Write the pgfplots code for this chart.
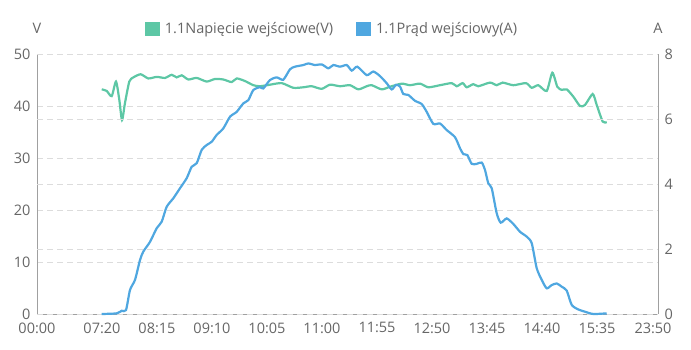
\documentclass[border=0pt]{standalone}
\usepackage{pgfplots}
\pgfplotsset{compat=1.18}
\usepackage{fontspec}
\setmainfont{Open Sans}
\definecolor{vgreen}{HTML}{5DC7A5}
\definecolor{ablue}{HTML}{4FA7E0}
\definecolor{txt}{HTML}{666666}
\definecolor{axl}{HTML}{A0A0A0}
\definecolor{grd}{HTML}{DCDCDC}
\begin{document}
\begin{tikzpicture}[x=1bp,y=1bp]
\path[use as bounding box] (0,0) rectangle (691,349);
\pgfplotsset{
  common/.style={
    at={(37bp,35bp)}, anchor=south west,
    scale only axis, width=621bp, height=260bp,
    xmin=0, xmax=621, clip=false,
    major tick length=0pt,
    tick label style={font=\fontsize{14.5bp}{16bp}\selectfont, text=txt},
    /pgf/number format/assume math mode=true,
    axis line style={axl, line width=1bp},
    ymajorgrids,
    grid style={grd, dash pattern=on 6bp off 4bp, line width=0.9bp},
  }
}
\begin{axis}[common,
  ymin=0, ymax=50, ytick={0,10,20,30,40,50},
  axis y line*=left, axis x line*=bottom,
  xtick={0,65,120,175,230,285,340,395,450,505,560,616},
  xticklabels={00:00,07:20,08:15,09:10,10:05,11:00,11:55,12:50,13:45,14:40,15:35,23:50},
  xticklabel style={yshift=-5bp},
  yticklabel style={xshift=-3bp},
  legend style={at={(0.475,1.096)}, anchor=center, draw=none, fill=none,
    font=\fontsize{14.5bp}{16bp}\selectfont, text=txt,
    legend columns=2, /tikz/every even column/.append style={column sep=21bp}},
  legend image code/.code={\fill[#1,draw=none] (0bp,-7bp) rectangle (15bp,7.5bp);
    \path[draw=none] (15bp,0bp) -- (18bp,0bp);},
]
\addplot[vgreen, line width=2.2bp, smooth, tension=0.4] coordinates {
(64.7,43.2)(69.7,42.9)(74.7,41.9)(79,44.7)(82.3,41.2)(85,37.3)(88,40.6)(92.3,44.7)
(96.3,45.5)(103.7,46.1)(111.3,45.3)(119.7,45.6)(128,45.4)(134.7,46.0)(139.7,45.5)
(144.7,45.9)(151.3,45.1)(159.7,45.4)(169.7,44.7)(178,45.2)(186.3,45.1)(194.7,44.6)
(199.7,45.3)(208,44.8)(216.3,44.0)(223,43.8)(233,44.1)(244.7,44.4)(256.3,43.5)
(266.3,43.6)(274.7,43.8)(284.7,43.3)(293,44.1)(303,43.8)(313,44.0)(321.3,43.2)
(329.7,43.8)(334.7,44.0)(344.7,43.2)(353,43.7)(364.7,44.3)(373,44.0)(383,44.3)
(391.3,43.6)(403,44.0)(414.7,44.4)(419.7,43.8)(425.7,44.4)(429.7,43.6)(436.3,44.2)
(441.3,43.8)(453,44.5)(459.7,44.0)(465.7,44.5)(476.3,44.0)(489,44.4)(494.7,43.5)
(501.3,44.0)(509.7,42.9)(515.3,46.4)(520.3,43.7)(524.7,43.1)(529.7,43.2)(536.3,41.8)
(543,40.0)(548,40.2)(555.7,42.3)(559.7,40.2)(565.7,37.0)(569.7,36.9)
};
\addlegendentry{1.1Napięcie wejściowe(V)}
\addlegendimage{ablue}
\addlegendentry{1.1Prąd wejściowy(A)}
\node[font=\fontsize{14.5bp}{16bp}\selectfont, text=txt] at (rel axis cs:0,1.1) {V};
\node[font=\fontsize{14.5bp}{16bp}\selectfont, text=txt] at (rel axis cs:1,1.1) {A};
\end{axis}
\begin{axis}[common,
  ymin=0, ymax=8, ytick={0,2,4,6,8},
  axis y line*=right, axis x line=none,
  yticklabel style={xshift=3bp},
]
\addplot[ablue, line width=2.2bp, smooth, tension=0.4] coordinates {
(64.7,0)(79.7,0.02)(84.7,0.1)(89,0.12)(93,0.74)(98,1.05)(103,1.66)(106.3,1.92)
(113,2.22)(119.7,2.64)(124.7,2.84)(129.7,3.30)(136.3,3.56)(143,3.87)(149.7,4.18)
(154.7,4.53)(159.7,4.64)(164.7,5.05)(169.7,5.20)(174.7,5.30)(179.7,5.51)(186.3,5.71)
(193,6.07)(199.7,6.22)(206.3,6.48)(211.3,6.58)(216.3,6.89)(223,6.98)(226.3,6.94)
(233,7.2)(239.7,7.28)(246.3,7.21)(253,7.53)(258,7.61)(266.3,7.66)(271.3,7.71)
(278,7.66)(284.7,7.68)(291.3,7.56)(296.3,7.66)(303,7.61)(309.7,7.66)(314.7,7.49)
(320.3,7.61)(329.7,7.35)(336.3,7.46)(343,7.32)(349.7,7.10)(354.7,6.91)(359,7.05)
(363,7.0)(366.3,6.77)(371.3,6.74)(378,6.56)(384.7,6.46)(389.7,6.22)(396.3,5.85)
(403,5.86)(409.7,5.66)(418,5.44)(423,5.10)(426.3,4.92)(430.3,4.89)(434.7,4.62)
(439.7,4.62)(444.7,4.66)(448,4.43)(451.3,4.02)(454.7,3.87)(459.7,3.10)(463.7,2.81)
(469.7,2.94)(476.3,2.77)(483,2.53)(489.7,2.38)(494.7,2.18)(499.7,1.41)(504.7,1.05)
(509.7,0.79)(514.7,0.89)(519.7,0.94)(524.7,0.84)(529.7,0.72)(534.7,0.28)(541.3,0.14)
(548,0.07)(556.3,0)(569.7,0.02)
};
\end{axis}
\end{tikzpicture}
\end{document}
